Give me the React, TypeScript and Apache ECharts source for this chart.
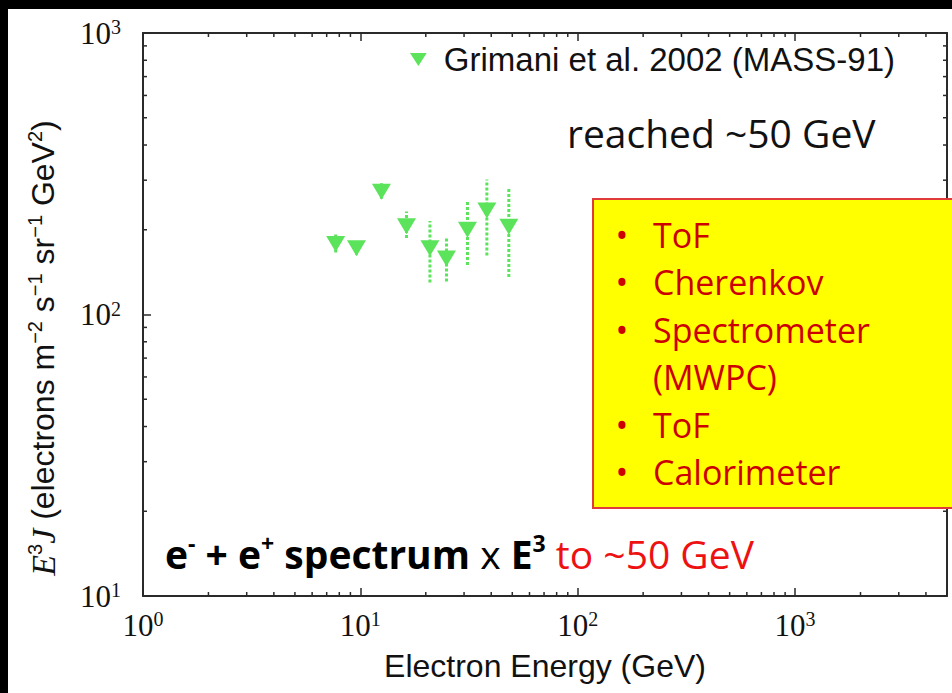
import React, { useEffect, useRef } from 'react';
import * as echarts from 'echarts';

// ---- data ----
const energies = [7.7, 9.6, 12.5, 16.3, 20.9, 24.9, 31.1, 38.2, 48.2];
const fluxValues = [178, 172, 273, 206, 172, 158, 200, 234, 205];
const errLow = [166, 163, 258, 187, 130, 131, 150, 162, 136];
const errHigh = [195, 183, 293, 232, 215, 187, 252, 302, 281];

const xRange = [1, 5000];
const yRange = [10, 1000];
const xMinorTicks = [2, 3, 4, 5, 6, 7, 8, 9, 20, 30, 40, 50, 60, 70, 80, 90, 200, 300, 400, 500, 600, 700, 800, 900, 2000, 3000, 4000];
const yMinorTicks = [20, 30, 40, 50, 60, 70, 80, 90, 200, 300, 400, 500, 600, 700, 800, 900];

const seriesName = 'Grimani et al. 2002 (MASS-91)';
const boxItems = ['ToF', 'Cherenkov', 'Spectrometer', '(MWPC)', 'ToF', 'Calorimeter'];
const boxBullets = [true, true, true, false, true, true];

const GREEN = '#5be35b';
const AXIS = '#2a2a2a';
const RED_BOX = '#cc0000';

const powLabel = (v: number) => {
  const e = Math.log10(v);
  const r = Math.round(e);
  if (Math.abs(e - r) > 1e-6) return '';
  return `{b|10}{s|${r}}`;
};

const labelRich = {
  b: { fontFamily: 'Liberation Serif', fontSize: 31, lineHeight: 32, color: '#111' },
  s: { fontFamily: 'Liberation Serif', fontSize: 20, lineHeight: 16, verticalAlign: 'top', color: '#111' },
};

export default function App() {
  const ref = useRef<HTMLDivElement>(null);
  useEffect(() => {
    document.body.style.margin = '0';
    const chart = echarts.init(ref.current!, null, { renderer: 'svg' });

    const baseX = {
      type: 'log',
      logBase: 10,
      min: xRange[0],
      max: xRange[1],
      axisLine: { show: true, lineStyle: { color: AXIS, width: 2 } },
      axisTick: { show: true, inside: true, length: 8, lineStyle: { color: AXIS, width: 1.5 } },
      splitLine: { show: false },
    };
    const baseY = {
      type: 'log',
      logBase: 10,
      min: yRange[0],
      max: yRange[1],
      axisLine: { show: true, lineStyle: { color: AXIS, width: 2 } },
      axisTick: { show: true, inside: true, length: 8, lineStyle: { color: AXIS, width: 1.5 } },
      splitLine: { show: false },
    };

    const boxGraphics: any[] = [];
    const lineY0 = 235;
    const lineStep = 47.4;
    boxItems.forEach((t, i) => {
      const y = lineY0 + i * lineStep;
      if (boxBullets[i]) {
        boxGraphics.push({
          type: 'text', z: 101, x: 622, y,
          style: { text: '•', fill: RED_BOX, font: '34px "Open Sans"', align: 'center', verticalAlign: 'middle' },
        });
      }
      boxGraphics.push({
        type: 'text', z: 101, x: 653, y,
        style: { text: t, fill: RED_BOX, font: '34px "Open Sans"', align: 'left', verticalAlign: 'middle' },
      });
    });

    const option: any = {
      animation: false,
      backgroundColor: 'transparent',
      grid: { left: 143, right: 5, top: 33, bottom: 97, containLabel: false },
      legend: {
        data: [{ name: seriesName, icon: 'path://M0,0L18,0L9,14Z' }],
        left: 405,
        top: 38,
        itemWidth: 17,
        itemHeight: 13,
        selectedMode: false,
        textStyle: { fontFamily: 'Liberation Sans', fontSize: 33, color: '#111', padding: [0, 0, 0, 12] },
      },
      xAxis: [
        {
          ...baseX,
          position: 'bottom',
          axisLabel: { show: true, margin: 13, formatter: powLabel, rich: labelRich },
          name: 'Electron Energy (GeV)',
          nameLocation: 'middle',
          nameGap: 54,
          nameTextStyle: { fontFamily: 'Liberation Sans', fontSize: 32, color: '#111' },
        },
        { ...baseX, position: 'top', axisLabel: { show: false } },
      ],
      yAxis: [
        {
          ...baseY,
          position: 'left',
          axisLabel: { show: true, margin: 22, formatter: powLabel, rich: labelRich },
        },
        { ...baseY, position: 'right', axisLabel: { show: false } },
      ],
      series: [
        {
          type: 'custom',
          name: 'xMinor',
          silent: true,
          data: xMinorTicks.map((v) => [v, 100]),
          encode: { x: 0, y: 1 },
          clip: false,
          renderItem: (params: any, api: any) => {
            const p = api.coord([api.value(0), api.value(1)]);
            const cs = params.coordSys;
            const st = { stroke: AXIS, lineWidth: 1.5 };
            return {
              type: 'group',
              children: [
                { type: 'line', shape: { x1: p[0], y1: cs.y + cs.height, x2: p[0], y2: cs.y + cs.height - 4 }, style: st },
                { type: 'line', shape: { x1: p[0], y1: cs.y, x2: p[0], y2: cs.y + 4 }, style: st },
              ],
            };
          },
        },
        {
          type: 'custom',
          name: 'yMinor',
          silent: true,
          data: yMinorTicks.map((v) => [10, v]),
          encode: { x: 0, y: 1 },
          clip: false,
          renderItem: (params: any, api: any) => {
            const p = api.coord([api.value(0), api.value(1)]);
            const cs = params.coordSys;
            const st = { stroke: AXIS, lineWidth: 1.5 };
            return {
              type: 'group',
              children: [
                { type: 'line', shape: { x1: cs.x, y1: p[1], x2: cs.x + 4, y2: p[1] }, style: st },
                { type: 'line', shape: { x1: cs.x + cs.width, y1: p[1], x2: cs.x + cs.width - 4, y2: p[1] }, style: st },
              ],
            };
          },
        },
        {
          type: 'custom',
          name: 'errors',
          silent: true,
          z: 1,
          data: energies.map((e, i) => [e, errLow[i], errHigh[i]]),
          encode: { x: 0, y: [1, 2] },
          renderItem: (params: any, api: any) => {
            const lo = api.coord([api.value(0), api.value(1)]);
            const hi = api.coord([api.value(0), api.value(2)]);
            return {
              type: 'line',
              shape: { x1: lo[0], y1: lo[1], x2: hi[0], y2: hi[1] },
              style: { stroke: GREEN, lineWidth: 3, lineDash: [3, 2] },
            };
          },
        },
        {
          type: 'scatter',
          name: seriesName,
          z: 3,
          symbol: 'path://M0,0L18,0L9,15Z',
          symbolSize: [19, 16],
          itemStyle: { color: GREEN, opacity: 1 },
          data: energies.map((e, i) => [e, fluxValues[i]]),
        },
      ],
      graphic: [
        { type: 'rect', z: -100, shape: { x: 8, y: 9, width: 944, height: 684 }, style: { fill: '#ffffff' } },
        {
          type: 'text', z: 50, x: 43, y: 348, rotation: Math.PI / 2,
          style: {
            text: '{it|E}{sp|3}{it|J}{n| (electrons m}{sp|−2}{n| s}{sp|−1}{n| sr}{sp|−1}{n| GeV}{sp|2}{n|)}',
            align: 'center', verticalAlign: 'middle',
            rich: {
              it: { fontFamily: 'Liberation Serif', fontStyle: 'italic', fontSize: 34, lineHeight: 36, fill: '#111' },
              n: { fontFamily: 'Liberation Sans', fontSize: 32, lineHeight: 36, fill: '#111' },
              sp: { fontFamily: 'Liberation Sans', fontSize: 20, lineHeight: 18, verticalAlign: 'top', fill: '#111' },
            },
          },
        },
        {
          type: 'text', z: 50, x: 567, y: 132,
          style: { text: 'reached ~50 GeV', fill: '#111', font: '39px "Open Sans"', align: 'left', verticalAlign: 'middle' },
        },
        {
          type: 'rect', z: 100,
          shape: { x: 593, y: 199, width: 400, height: 309 },
          style: { fill: '#ffff00', stroke: '#e03a3a', lineWidth: 2 },
        },
        ...boxGraphics,
        {
          type: 'text', z: 50, x: 165, y: 553,
          style: {
            text: '{b|e}{bs|-}{b| + e}{bs|+}{b| spectrum}{n| x }{b|E}{bs|3}{r| to ~50 GeV}',
            align: 'left', verticalAlign: 'middle',
            rich: {
              b: { fontFamily: 'Open Sans', fontWeight: 'bold', fontSize: 39, lineHeight: 44, fill: '#000' },
              bs: { fontFamily: 'Open Sans', fontWeight: 'bold', fontSize: 23, lineHeight: 26, verticalAlign: 'top', fill: '#000' },
              n: { fontFamily: 'Open Sans', fontSize: 39, lineHeight: 44, fill: '#000' },
              r: { fontFamily: 'Open Sans', fontSize: 39, lineHeight: 44, fill: '#ee1111' },
            },
          },
        },
      ],
    };

    chart.setOption(option);
    return () => chart.dispose();
  }, []);
  return <div ref={ref} style={{ width: 952, height: 693, background: '#000' }} />;
}
